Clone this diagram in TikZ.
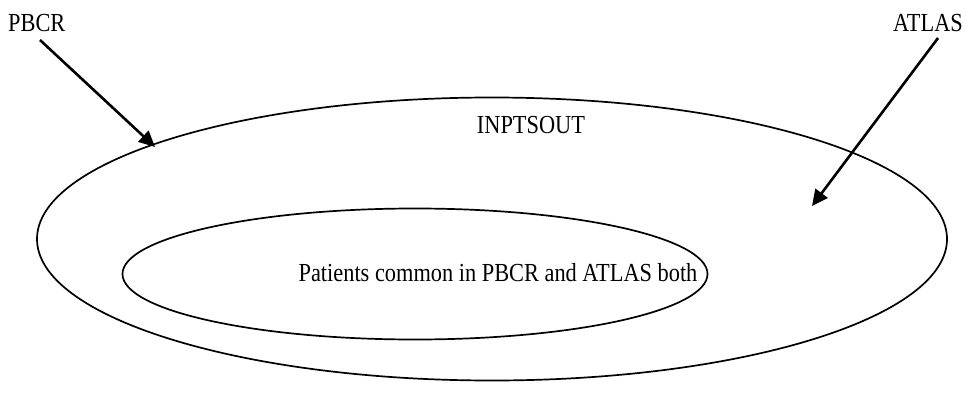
\documentclass[tikz,border=0pt]{standalone}
\usepackage{fontspec}
\setmainfont[FakeStretch=0.86]{Liberation Serif}
\usetikzlibrary{arrows.meta,shapes.geometric}
\begin{document}
\begin{tikzpicture}[x=1pt,y=-1pt,
  lbl/.style={inner sep=0pt,font=\fontsize{26}{31}\selectfont},
  ring/.style={draw=black,line width=1.7pt},
  pointer/.style={draw=black,line width=2.6pt,-{Triangle[length=16pt,width=15pt]}}]
\useasboundingbox (0,0) rectangle (966,412);
\fill[white] (0,0) rectangle (966,412);
\node[ring,ellipse,inner sep=0pt,minimum width=910pt,minimum height=283pt] (outer) at (492,239) {};
\node[ring,ellipse,inner sep=0pt,minimum width=585pt,minimum height=131pt] (inner) at (415,274) {};
\node[lbl,anchor=base west] (pbcr) at (8,32) {PBCR};
\node[lbl,anchor=base east] (atlas) at (963,32) {ATLAS};
\node[lbl,anchor=base] (inpt) at (531,133) {INPTSOUT};
\node[lbl,anchor=base] (common) at (498,281) {Patients common in PBCR and ATLAS both};
\coordinate (ps) at (40,40);
\coordinate (as) at (938,38);
\coordinate (pa) at (155,147);
\coordinate (aa) at (812,206);
\draw[pointer] (ps) -- (pa);
\draw[pointer] (as) -- (aa);
\end{tikzpicture}
\end{document}
